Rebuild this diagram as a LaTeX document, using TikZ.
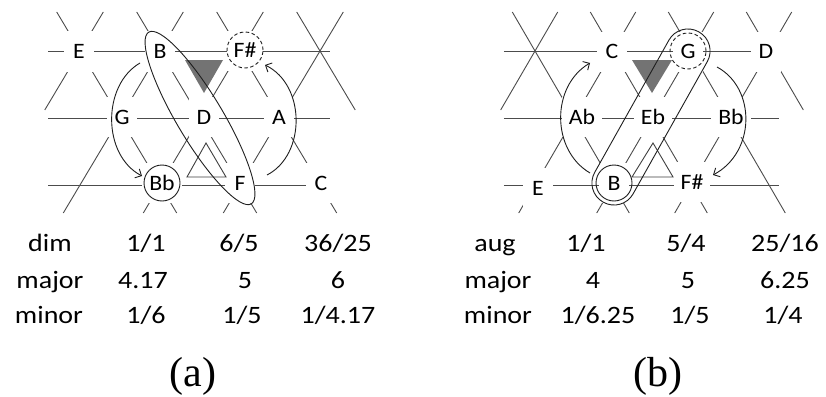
\documentclass[tikz,border=0pt]{standalone}
\usepackage{fontspec}
\newfontfamily\labfont{Carlito}[FakeStretch=1.08]
\newfontfamily\tabfont{Carlito}[FakeStretch=1.12]
\newfontfamily\capfont{Liberation Serif}
\usetikzlibrary{arrows.meta,shapes.geometric}
% #1 = x of first row-2 lattice point, #2 = horizontal spacing
\newcommand\tonnetzgrid[2]{%
  \pgfmathsetmacro\kk{#2/2/67}%
  \foreach \yy in {51,118,185}
    \draw[lat] ({#1+0.1*#2},\yy) -- ({#1+3.625*#2},\yy);
  \foreach \n/\ya in {0/110,1/213,2/213,3/213}
    \draw[lat] ({#1+\n*#2+(118-\ya)*\kk},\ya) -- ({#1+\n*#2+(118-12)*\kk},12);
  \foreach \n/\yb in {1/213,2/213,3/213,4/110}
    \draw[lat] ({#1+\n*#2+(12-118)*\kk},12) -- ({#1+\n*#2+(\yb-118)*\kk},\yb);
}
\begin{document}
\begin{tikzpicture}[x=1pt,y=-1pt,
  lat/.style={draw=black!70, line width=0.9pt},
  lbl/.style={fill=white, inner sep=0pt, inner xsep=7pt, minimum width=30pt,
    minimum height=40pt, text height=14pt, text depth=0pt,
    font=\labfont\fontsize{22}{22}\selectfont},
  ring/.style={draw=black!88, circle, minimum size=36pt, inner sep=0pt, line width=0.9pt},
  dring/.style={ring, dash pattern=on 3.5pt off 2.5pt},
  hull/.style={draw=black!88, line width=0.9pt, inner sep=0pt},
  arr/.style={draw=black!88, line width=0.9pt, -{Straight Barb[length=5pt,width=10pt]}},
  tri/.style={draw=black!75, line width=0.9pt},
  gtri/.style={fill=black!55, draw=none},
  tab/.style={anchor=base, inner sep=0pt, font=\tabfont\fontsize{25}{25}\selectfont},
  captxt/.style={anchor=base, inner sep=0pt, font=\capfont\fontsize{42}{42}\selectfont}]
\fill[white] (0,0) rectangle (826,396);
\useasboundingbox (0,0) rectangle (826,396);

% ---------------- panel (a) ----------------
\tonnetzgrid{40}{80}
\node[lbl] (aE)  at (79,51.5)  {E};
\node[lbl] (aB)  at (160,51.5) {B};
\node[lbl] (aFs) at (245,51)   {F\#};
\node[lbl] (aG)  at (122,117)  {G};
\node[lbl] (aD)  at (204,117)  {D};
\node[lbl] (aA)  at (279,117)  {A};
\node[lbl] (aBb) at (162,183)  {Bb};
\node[lbl] (aF)  at (240,183)  {F};
\node[lbl] (aC)  at (321,183)  {C};
\fill[gtri] (185,60) -- (223,60) -- (204,93) -- cycle;
\draw[tri] (187,177) -- (206,143) -- (226,177) -- cycle;
\node[hull, ellipse, minimum width=200pt, minimum height=46pt, rotate=-59.16] (aHull) at (200,118) {};
\node[ring]  (aBbc) at (162,183) {};
\node[dring] (aFsc) at (245,50) {};
\coordinate (aL1) at (140,63);
\coordinate (aL2) at (142,176);
\coordinate (aR1) at (267,175);
\coordinate (aR2) at (265,65);
\draw[arr] (aL1) .. controls (102,85) and (102,155) .. (aL2);
\draw[arr] (aR1) .. controls (306,155) and (306,85) .. (aR2);

% ---------------- panel (b) ----------------
\tonnetzgrid{496}{78}
\node[lbl] (bC)  at (612,52)  {C};
\node[lbl] (bG)  at (688,52)  {G};
\node[lbl] (bD)  at (766,52)  {D};
\node[lbl] (bAb) at (582,117) {Ab};
\node[lbl] (bEb) at (653,117) {Eb};
\node[lbl] (bBb) at (731,117) {Bb};
\node[lbl] (bE)  at (538,188) {E};
\node[lbl] (bB)  at (614,183) {B};
\node[lbl] (bFs) at (692,182) {F\#};
\fill[gtri] (632,60) -- (672,60) -- (652,93) -- cycle;
\draw[tri] (632,177) -- (653,143) -- (673,177) -- cycle;
\node[hull, rectangle, rounded corners=21.8pt, minimum width=195.3pt, minimum height=44pt, rotate=60.7] (bHull) at (651,117) {};
\node[ring]  (bBc) at (614,183) {};
\node[dring] (bGc) at (688,51) {};
\coordinate (bL1) at (590,173);
\coordinate (bL2) at (590,63);
\coordinate (bR1) at (717,67);
\coordinate (bR2) at (713,175);
\draw[arr] (bL1) .. controls (551,150) and (551,86) .. (bL2);
\draw[arr] (bR1) .. controls (756,88) and (756,152) .. (bR2);

% ---------------- tables ----------------
\node[tab] (ta1) at (50,251.5)  {dim};
\node[tab] (ta2) at (146,251.5) {1/1};
\node[tab] (ta3) at (239,251.5) {6/5};
\node[tab] (ta4) at (338,251.5) {36/25};
\node[tab] (ta5) at (50,288)    {major};
\node[tab] (ta6) at (143,288)   {4.17};
\node[tab] (ta7) at (245,288)   {5};
\node[tab] (ta8) at (338,288)   {6};
\node[tab] (ta9) at (49,323.5)  {minor};
\node[tab] (ta10) at (146,323.5) {1/6};
\node[tab] (ta11) at (242,323.5) {1/5};
\node[tab] (ta12) at (338,323.5) {1/4.17};

\node[tab] (tb1) at (495,251.5) {aug};
\node[tab] (tb2) at (586,251.5) {1/1};
\node[tab] (tb3) at (686,251.5) {5/4};
\node[tab] (tb4) at (785,251.5) {25/16};
\node[tab] (tb5) at (498,288)   {major};
\node[tab] (tb6) at (593,288)   {4};
\node[tab] (tb7) at (688,288)   {5};
\node[tab] (tb8) at (785,288)   {6.25};
\node[tab] (tb9) at (498,323.5) {minor};
\node[tab] (tb10) at (598,323.5) {1/6.25};
\node[tab] (tb11) at (690,323.5) {1/5};
\node[tab] (tb12) at (783,323.5) {1/4};

\node[captxt] (capa) at (193,386) {(a)};
\node[captxt] (capb) at (658,386) {(b)};
\end{tikzpicture}
\end{document}
